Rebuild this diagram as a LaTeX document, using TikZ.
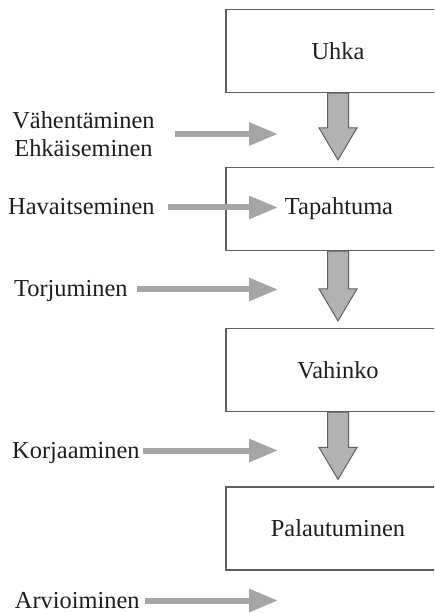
\documentclass[tikz,border=0pt]{standalone}
\definecolor{harmaa1}{RGB}{165, 165, 165}
\definecolor{harmaa2}{RGB}{178, 178, 178}
\definecolor{reuna1}{RGB}{95, 95, 95}
\definecolor{teksti1}{RGB}{30, 30, 30}
\usepackage{fontspec}
\setmainfont{Liberation Serif}
\usepackage{tikz}
\usetikzlibrary{arrows.meta, positioning, calc}

\newcommand{\alasnuoli}[2]{%
  \path[alasnuolityyli] ($(#1.south)+(-10.5,0)$) -- ($(#1.south)+(10.5,0)$)
    -- ($(#2.north)+(10.5,-39)$) -- ($(#2.north)+(19,-39)$) -- ($(#2.north)+(0,-7)$)
    -- ($(#2.north)+(-19,-39)$) -- ($(#2.north)+(-10.5,-39)$) -- cycle;}

\begin{document}
\begin{tikzpicture}[x=0.5pt, y=-0.5pt,
    lohko/.style={draw=reuna1, line width=0.6pt, minimum width=112pt, minimum height=41.5pt,
      inner sep=0pt, text=teksti1, font=\fontsize{12.2}{14}\selectfont},
    toimi/.style={inner sep=0pt, text=teksti1, font=\fontsize{12.2}{14}\selectfont},
    rivi/.style={text height=7.5pt, text depth=0pt},
    sivunuoli/.style={draw=harmaa1, line width=3pt, -{Triangle[length=14.5pt, width=11pt]}},
    alasnuolityyli/.style={fill=harmaa2, draw=reuna1, line width=0.5pt, line join=miter}]
  \useasboundingbox (0,0) rectangle (434,613);
  \clip (0,0) rectangle (434,613);

  % vaiheet
  \node[lohko] (uhka) at (338,51) {Uhka};
  \node[lohko] (tapahtuma) at (338,209) {};
  \node[toimi, anchor=base] (tapteksti) at (339,215) {Tapahtuma};
  \node[lohko] (vahinko) at (338,370) {Vahinko};
  \node[lohko] (palautuminen) at (338,528.5) {Palautuminen};

  \alasnuoli{uhka}{tapahtuma}
  \alasnuoli{tapahtuma}{vahinko}
  \alasnuoli{vahinko}{palautuminen}

  % toimenpiteet
  \node[toimi, anchor=east, align=center] (vahent) at (155,134) {Vähentäminen\\Ehkäiseminen};
  \node[toimi, rivi, anchor=base east] (havaits) at (155,215) {Havaitseminen};
  \node[toimi, rivi, anchor=base east] (torjum) at (128,297) {Torjuminen};
  \node[toimi, rivi, anchor=base east] (korjaa) at (140,458) {Korjaaminen};
  \node[toimi, rivi, anchor=base east] (arvioi) at (140,608) {Arvioiminen};

  \coordinate (karki) at (278,0);
  \draw[sivunuoli] ([xshift=10pt]vahent.east) -- (vahent.east -| karki);
  \draw[sivunuoli] ([xshift=6.5pt]havaits.east) -- (havaits.east -| karki);
  \draw[sivunuoli] ([xshift=4.5pt]torjum.east) -- (torjum.east -| karki);
  \draw[sivunuoli] ([xshift=1.5pt]korjaa.east) -- (korjaa.east -| karki);
  \draw[sivunuoli] ([xshift=2.5pt]arvioi.east) -- (arvioi.east -| karki);
\end{tikzpicture}
\end{document}
